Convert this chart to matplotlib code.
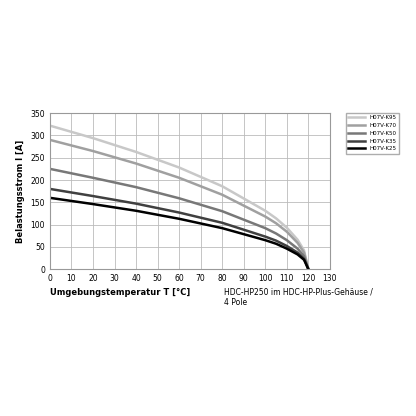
import matplotlib.pyplot as plt

temps = [0, 20, 40, 60, 80, 100, 105, 110, 115, 118, 120]
labels = ["H07V-K95", "H07V-K70", "H07V-K50", "H07V-K35", "H07V-K25"]
colors = ["#c8c8c8", "#a0a0a0", "#787878", "#404040", "#000000"]
currents = [
    [322, 294, 263, 228, 186, 131, 114, 93, 66, 42, 0],
    [290, 265, 237, 205, 167, 118, 103, 84, 59, 37, 0],
    [225, 205, 184, 159, 130, 92, 80, 65, 46, 29, 0],
    [180, 164, 147, 127, 104, 73, 64, 52, 37, 23, 0],
    [160, 146, 131, 113, 92, 65, 57, 46, 33, 21, 0],
]

fig = plt.figure(figsize=(4.16, 4.16), dpi=100)
ax = fig.add_axes([0.12, 0.353, 0.673, 0.375])
for lab, col, cur in zip(labels, colors, currents):
    ax.plot(temps, cur, color=col, lw=1.8, label=lab)
ax.set_xlim(0, 130)
ax.set_ylim(0, 350)
ax.set_xticks(range(0, 131, 10))
ax.set_yticks(range(0, 351, 50))
ax.grid(True, color="#bbbbbb", lw=0.6)
ax.tick_params(labelsize=5.5, length=0)
for s in ax.spines.values():
    s.set_color("#999999")
ax.set_ylabel("Belastungsstrom I [A]", fontsize=6, fontweight="bold")
ax.text(0, -0.12, "Umgebungstemperatur T [°C]", transform=ax.transAxes,
        fontsize=6, fontweight="bold", va="top")
ax.text(0.62, -0.12, "HDC-HP250 im HDC-HP-Plus-Gehäuse /\n4 Pole", transform=ax.transAxes,
        fontsize=5.5, va="top")
fig.legend(loc="upper left", bbox_to_anchor=(0.825, 0.735), fontsize=4,
           frameon=True, fancybox=False, edgecolor="#999999", handlelength=3)
fig.savefig("out.png")
